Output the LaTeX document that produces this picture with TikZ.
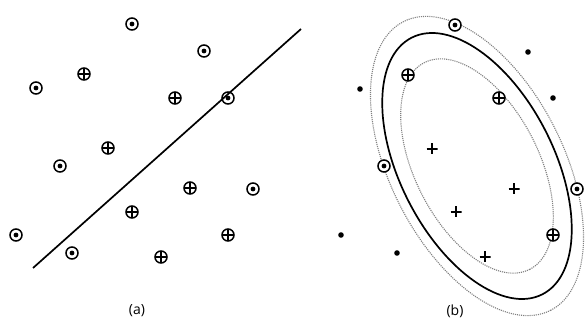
\documentclass[tikz,border=0pt]{standalone}
\usepackage{fontspec}
\setmainfont{Open Sans}
\begin{document}
\begin{tikzpicture}[x=1pt,y=-1pt,
  mk/.style={circle, draw, line width=1.5pt, minimum size=12pt, inner sep=0pt},
  odot/.style={mk, path picture={\fill[black] (path picture bounding box.center) circle (2.4pt);}},
  oplus/.style={mk, path picture={\draw[black, line width=1.3pt] (path picture bounding box.north) -- (path picture bounding box.south) (path picture bounding box.west) -- (path picture bounding box.east);}},
  pl/.style={rectangle, inner sep=0pt, minimum size=11pt, path picture={\draw[line width=1.6pt] (path picture bounding box.north) -- (path picture bounding box.south) (path picture bounding box.west) -- (path picture bounding box.east);}},
  dt/.style={circle, fill, inner sep=0pt, minimum size=5.6pt},
  sep/.style={line width=1.7pt},
  margin/.style={gray, densely dotted, line width=1.1pt},
  lab/.style={font=\fontsize{14pt}{16pt}\selectfont}
]
\useasboundingbox (0,0) rectangle (587,323);
% panel (a)
\coordinate (l1) at (33,268);
\coordinate (l2) at (301,29);
\draw[sep] (l1) -- (l2);
\node[odot] (a1) at (132,24) {};
\node[odot] (a2) at (204,51) {};
\node[odot] (a3) at (36,88) {};
\node[odot] (a4) at (228,98) {};
\node[odot] (a5) at (60,166) {};
\node[odot] (a6) at (253,189) {};
\node[odot] (a7) at (16,235) {};
\node[odot] (a8) at (72,253) {};
\node[oplus] (p1) at (84,74) {};
\node[oplus] (p2) at (175,98) {};
\node[oplus] (p3) at (108,148) {};
\node[oplus] (p4) at (190,188) {};
\node[oplus] (p5) at (132,212) {};
\node[oplus] (p6) at (228,235) {};
\node[oplus] (p7) at (161,257) {};
\node[lab] (la) at (137,311) {(a)};
% panel (b)
\begin{scope}[shift={(477,166)}, rotate=-63]
  \draw[margin] (0,0) ellipse [x radius=162pt, y radius=86.5pt];
  \draw[margin] (0,0) ellipse [x radius=116pt, y radius=62pt];
  \draw[sep] (0,0) ellipse [x radius=144pt, y radius=77pt];
\end{scope}
\node[odot, fill=white] (b1) at (455,25) {};
\node[odot, fill=white] (b2) at (384,166) {};
\node[odot, fill=white] (b3) at (577,189) {};
\node[oplus, fill=white] (q1) at (408,75) {};
\node[oplus, fill=white] (q2) at (499,98) {};
\node[oplus, fill=white] (q3) at (553,235) {};
\node[pl] (r1) at (432,149) {};
\node[pl] (r2) at (514,189) {};
\node[pl] (r3) at (456,212) {};
\node[pl] (r4) at (485,257) {};
\node[dt] (d1) at (360,89) {};
\node[dt] (d2) at (528,52) {};
\node[dt] (d3) at (553,98) {};
\node[dt] (d4) at (341,235) {};
\node[dt] (d5) at (397,253) {};
\node[lab] (lb) at (455,311) {(b)};
\end{tikzpicture}
\end{document}
